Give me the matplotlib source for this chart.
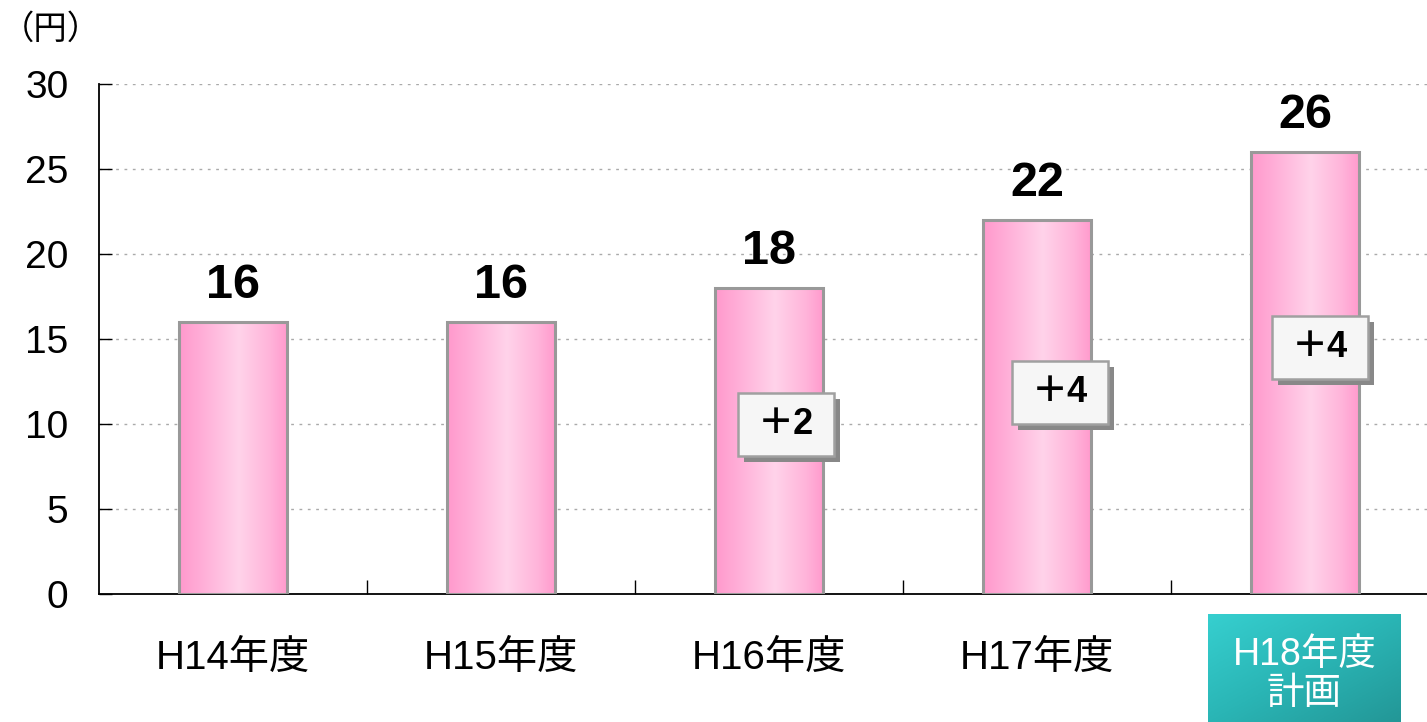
import numpy as np
import matplotlib.pyplot as plt
from matplotlib.colors import LinearSegmentedColormap
from matplotlib.patches import Rectangle

plt.rcParams['font.family'] = ['Liberation Sans', 'Noto Sans CJK JP', 'DejaVu Sans']

# data
categories = ['H14年度', 'H15年度', 'H16年度', 'H17年度', 'H18年度\n計画']
values = [16, 16, 18, 22, 26]
diff_labels = ['', '', '＋2', '＋4', '＋4']
diff_x = [0, 0, 2.063, 3.086, 4.056]
diff_y = [0, 0, 9.97, 11.85, 14.5]
unit_label = '（円）'

fig = plt.figure(figsize=(14.27, 7.22), dpi=100)
ax = fig.add_axes([99 / 1427, 128 / 722, 1328 / 1427, 510 / 722])

pink = LinearSegmentedColormap.from_list(
    'pink', [(0, '#FF99CC'), (0.15, '#FFA8D4'), (0.55, '#FFD3EA'), (0.85, '#FFB2D9'), (1, '#FF99CC')])
grad = np.linspace(0, 1, 256).reshape(1, -1)

for y in range(5, 31, 5):
    ax.axhline(y, color='#AAAAAA', lw=1, linestyle=(0, (2, 4)), zorder=1)

w = 0.403
for i, v in enumerate(values):
    ax.imshow(grad, cmap=pink, extent=(i - w / 2, i + w / 2, 0, v), aspect='auto', zorder=2)
    ax.add_patch(Rectangle((i - w / 2, 0), w, v, fill=False, ec='#999999', lw=2.2, zorder=3))
    ax.annotate(str(v), (i, v), xytext=(0, 10), textcoords='offset points',
                ha='center', va='bottom', fontsize=35, fontweight='bold', zorder=5)

# boxes with the increase (size in pixels -> data units)
bw, bh = 96 / 268, 63 / 17
sx, sy = 6 / 268, 6 / 17
for i, t in enumerate(diff_labels):
    if not t:
        continue
    x0, y0 = diff_x[i] - bw / 2, diff_y[i] - bh / 2
    ax.add_patch(Rectangle((x0 + sx, y0 - sy), bw, bh, fc='#888888', ec='none', zorder=5))
    ax.add_patch(Rectangle((x0, y0), bw, bh, fc='#F6F6F6', ec='#A0A0A0', lw=1.8, zorder=6))
    ax.text(diff_x[i], diff_y[i], t, ha='center', va='center', fontsize=26,
            fontweight='bold', zorder=7)

ax.set_xlim(-0.5, 4.455)
ax.set_ylim(0, 30)

ax.spines['top'].set_visible(False)
ax.spines['right'].set_visible(False)
ax.spines['left'].set_linewidth(1.3)
ax.spines['bottom'].set_linewidth(1.3)
ax.set_yticks(range(0, 31, 5))
ax.tick_params(axis='y', direction='in', length=9, width=1, labelsize=28, pad=22)
ax.set_xticks([i + 0.5 for i in range(4)])
ax.set_xticklabels([])
ax.tick_params(axis='x', direction='in', length=10, width=1)

for i, c in enumerate(categories[:-1]):
    ax.text(i, -3.75, c, ha='center', va='center', fontsize=29, clip_on=False)

# highlighted last label
teal = LinearSegmentedColormap.from_list('teal', ['#36CFCF', '#2AB5B5', '#239797'])
tx0, tx1, ty0, ty1 = 1208 / 1427, 1401 / 1427, 0, 108 / 722
gx, gy = np.meshgrid(np.linspace(0, 1, 100), np.linspace(0, 1, 60))
tax = fig.add_axes([tx0, ty0, tx1 - tx0, ty1 - ty0])
tax.imshow((gx + gy) / 2, cmap=teal, aspect='auto', extent=(0, 1, 0, 1), origin='upper')
tax.set_axis_off()
tax.text(0.5, 0.44, categories[-1], ha='center', va='center', fontsize=27, color='white',
         linespacing=1.1)

fig.text(1 / 1427, 1 - 30 / 722, unit_label, ha='left', va='center', fontsize=24)

fig.savefig('out.png', dpi=100)
